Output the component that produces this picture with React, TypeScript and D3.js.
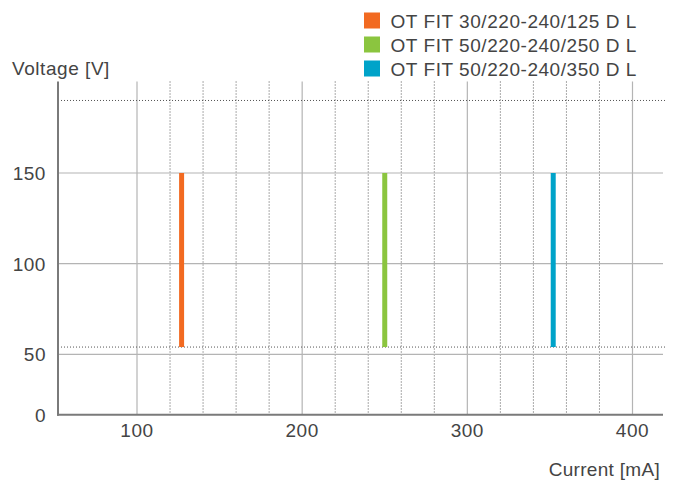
import React from "react";
import * as d3 from "d3";

const seriesNames = ["OT FIT 30/220-240/125 D L", "OT FIT 50/220-240/250 D L", "OT FIT 50/220-240/350 D L"];
const seriesColors = ["#f26a21", "#8bc53f", "#00a3c9"];
const seriesCurrent = [127, 250, 352];
const seriesVmin = [54, 54, 54];
const seriesVmax = [150, 150, 150];
const xTicks = [100, 200, 300, 400];
const xMinor = [120, 140, 160, 180, 220, 240, 260, 280, 320, 340, 360, 380];
const yTicks = [0, 50, 100, 150];
const yDotted = [54, 190];

const W = 674;
const H = 486;
const L = 58;
const R = 663;
const T = 81.5;
const B = 414.7;

export default function App() {
  const x = d3.scaleLinear().domain([100, 400]).range([137, 632.5]);
  const y = d3.scaleLinear().domain([0, 50, 150]).range([B, 354.3, 173]);
  const font = "'Liberation Sans', Arial, sans-serif";
  const txt = "#444";
  const fs = 19;
  const ls = 0.55;
  return (
    <svg width={W} height={H} style={{ position: "absolute", left: 0, top: 0 }} fontFamily={font}>
      <rect width={W} height={H} fill="#fff" />
      {xMinor.map((v) => (
        <line key={"m" + v} x1={x(v)} x2={x(v)} y1={T} y2={B} stroke="#555" strokeWidth={1} strokeDasharray="1,2" />
      ))}
      {xTicks.map((v) => (
        <line key={"x" + v} x1={x(v)} x2={x(v)} y1={T} y2={B} stroke="#b4b4b4" strokeWidth={1.2} />
      ))}
      {yTicks.filter((v) => v > 0).map((v) => (
        <line key={"y" + v} x1={L} x2={R} y1={y(v)} y2={y(v)} stroke="#b4b4b4" strokeWidth={1.2} />
      ))}
      {yDotted.map((v) => (
        <line key={"d" + v} x1={L} x2={R + 2} y1={y(v)} y2={y(v)} stroke="#555" strokeWidth={1} strokeDasharray="1,2" />
      ))}
      {seriesCurrent.map((c, i) => (
        <rect key={"b" + i} x={x(c) - 2.5} width={5} y={y(seriesVmax[i])} height={y(seriesVmin[i]) - y(seriesVmax[i])} fill={seriesColors[i]} />
      ))}
      <line x1={L} x2={L} y1={T} y2={B + 1} stroke="#7a7a7a" strokeWidth={2} />
      <line x1={L - 1} x2={R} y1={B} y2={B} stroke="#7a7a7a" strokeWidth={2} />
      {yTicks.map((v) => (
        <text key={"yl" + v} x={46} y={y(v) + 7} textAnchor="end" fontSize={fs} fill={txt} letterSpacing={ls}>
          {v}
        </text>
      ))}
      {xTicks.map((v) => (
        <text key={"xl" + v} x={x(v)} y={437} textAnchor="middle" fontSize={fs} fill={txt} letterSpacing={ls}>
          {v}
        </text>
      ))}
      <text x={12} y={74.5} fontSize={fs} fill={txt} letterSpacing={ls}>Voltage [V]</text>
      <text x={660} y={476} textAnchor="end" fontSize={fs} fill={txt} letterSpacing={0.3}>Current [mA]</text>
      {seriesNames.map((n, i) => (
        <g key={"lg" + i} transform={`translate(364, ${12.5 + i * 24})`}>
          <rect width={16} height={16} fill={seriesColors[i]} />
          <text x={26.5} y={15.2} fontSize={fs} fill={txt} letterSpacing={ls}>{n}</text>
        </g>
      ))}
    </svg>
  );
}
